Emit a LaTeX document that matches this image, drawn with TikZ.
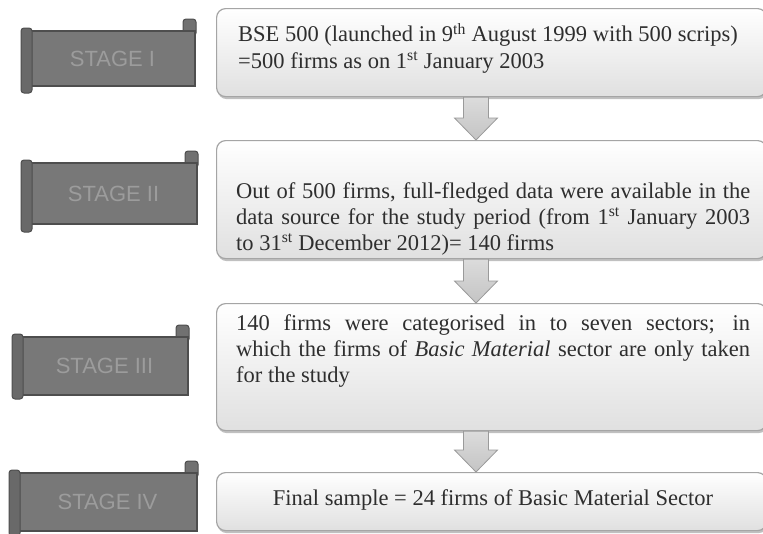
\documentclass[tikz,border=0pt]{standalone}
\usepackage{fontspec}
\setmainfont{Liberation Serif}
\newfontfamily\bannerfont{Liberation Sans}
\usetikzlibrary{calc,shadows}
\definecolor{txt}{HTML}{2E2E2E}
\definecolor{bnr}{HTML}{787878}
\definecolor{bnrdk}{HTML}{4E4E4E}
\definecolor{bnrtxt}{HTML}{9C9C9C}
\definecolor{boxline}{HTML}{A5A5A5}
\definecolor{boxbot}{HTML}{E0E0E0}
\definecolor{arrfill}{HTML}{C4C4C4}
\definecolor{arrline}{HTML}{9A9A9A}
\tikzset{
  infobox/.style={draw=boxline, line width=1.2pt, rounded corners=9pt,
    top color=white, bottom color=boxbot,
    drop shadow={shadow xshift=1pt, shadow yshift=-2.5pt, fill=gray!70, opacity=0.7},
    anchor=north west, minimum width=550pt, inner sep=0pt},
  boxtext/.style={anchor=north west, inner sep=0pt, text width=514pt, align=justify,
    text=txt, font=\fontsize{22.5}{26}\selectfont},
  linetext/.style={inner sep=0pt, align=left, text=txt, font=\fontsize{22.5}{26.5}\selectfont},
  blockarrow/.style={draw=arrline, line width=0.8pt, top color=arrfill!60, bottom color=arrfill, line join=miter},
  bannerbody/.style={fill=bnr, draw=bnrdk, line width=2pt},
  bannertext/.style={text=bnrtxt, font=\bannerfont\fontsize{22}{22}\selectfont, inner sep=0pt},
}
\newcommand{\downarrowblock}[2]{%
  \path[blockarrow] let \p1=(#1), \p2=(#2) in
    (\x1-12.5pt,\y1) -- (\x1-12.5pt,\y2+22pt) -- (\x1-21.5pt,\y2+22pt) -- (\x1,\y2)
    -- (\x1+21.5pt,\y2+22pt) -- (\x1+12.5pt,\y2+22pt) -- (\x1+12.5pt,\y1) -- cycle;}
\newcommand{\stagebanner}[7]{%
  % #1 name, #2 x1, #3 y1, #4 x2, #5 y2, #6 bottom of left roll, #7 text
  \fill[bnrdk!80, draw=bnrdk, line width=1pt, rounded corners=3pt] (#4-11,#3-11) rectangle (#4+2,#3+6);
  \node[bannerbody, minimum width=#4-#2, minimum height=#5-#3, anchor=north west, inner sep=0pt] (#1) at (#2,#3) {};
  \fill[bnrdk!85, draw=bnrdk, line width=1pt, rounded corners=3pt] (#2-2,#3-2) rectangle (#2+9,#6);
  \node[bannertext] (#1t) at ($(#1.center)+(3,0)$) {#7};}
\begin{document}
\begin{tikzpicture}[x=1pt,y=-1pt]
\useasboundingbox (0,0) rectangle (763,533);
\fill[white] (0,0) rectangle (763,533);

% info boxes
\node[infobox, minimum height=88pt] (b1) at (216,8) {};
\node[infobox, minimum height=118pt] (b2) at (216,140) {};
\node[infobox, minimum height=127pt] (b3) at (216,303) {};
\node[infobox, minimum height=58pt] (b4) at (216,472) {};

\coordinate (ax) at (476,0);
\downarrowblock{b1.south -| ax}{b2.north -| ax}
\downarrowblock{b2.south -| ax}{b3.north -| ax}
\downarrowblock{b3.south -| ax}{b4.north -| ax}

\node[linetext, anchor=north west] (t1) at (238,23) {BSE 500 (launched in 9\textsuperscript{th} August 1999 with 500 scrips)\\=500 firms as on 1\textsuperscript{st} January 2003};
\node[boxtext] (t2) at (236,182) {Out of 500 firms, full-fledged data were available in the\linebreak data source for the study period (from 1\textsuperscript{st} January 2003\linebreak to 31\textsuperscript{st} December 2012)= 140 firms};
\node[boxtext] (t3) at (236,314) {140 firms were categorised in to seven sectors; in\linebreak which the firms of \textit{Basic Material} sector are only taken\linebreak for the study};
\node[linetext, anchor=base] (t4) at (493,505) {Final sample = 24 firms of Basic Material Sector};

% stage banners
\stagebanner{s1}{23}{30}{194}{85}{93}{STAGE I}
\stagebanner{s2}{23}{162}{196}{223}{232}{STAGE II}
\stagebanner{s3}{14}{336}{187}{394}{399}{STAGE III}
\stagebanner{s4}{11}{472}{196}{530}{536}{STAGE IV}
\end{tikzpicture}
\end{document}
